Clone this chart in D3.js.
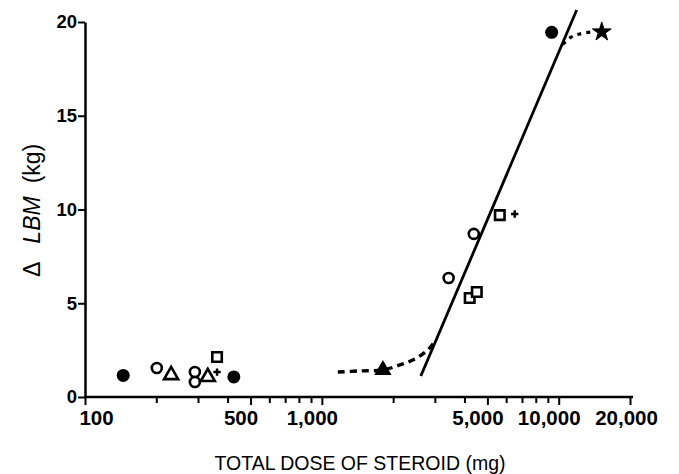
<!DOCTYPE html>
<html><head><meta charset="utf-8">
<script src="https://cdn.jsdelivr.net/npm/d3@7"></script>
<style>body{margin:0;background:#fff}svg{display:block}</style>
</head><body><svg id="c" width="679" height="474"></svg>
<script>
// ---- data ----
const xTickValues = [100,200,300,400,500,600,700,800,900,1000,2000,3000,4000,5000,6000,7000,8000,9000,10000,20000];
const xTickLabels = {100:"100",500:"500",1000:"1,000",5000:"5,000",10000:"10,000",20000:"20,000"};
const yTickValues = [0,5,10,15,20];
const filledCircles = [[145,1.15],[425,1.07],[9340,19.45]];
const openCircles = [[201,1.55],[291,1.33],[291,0.8],[3430,6.35],[4380,8.7]];
const openTriangles = [[231,1.17],[330,1.07]];
const filledTriangles = [[1810,1.44]];
const openSquares = [[361,2.13],[4210,5.28],[4510,5.6],[5640,9.7]];
const plusMarks = [[361,1.33],[6520,9.76]];
const stars = [[15200,19.47]];
const fitLine = [[2617,1.12],[11910,20.64]];
const lowerCurve = [[1168,1.33],[1446,1.39],[1808,1.44],[2134,1.71],[2468,2.03],[2801,2.51],[3028,3.04]];
const upperCurve = [[10400,18.8],[11130,19.15],[12270,19.36],[13780,19.47]];

// ---- chart ----
const svg = d3.select("#c");
const x = d3.scaleLog().domain([100,20000]).range([85,630]);
const y = d3.scaleLinear().domain([0,20]).range([397,22]);
const font = "'Liberation Sans', Arial, sans-serif";
const labelShift = d => d === 100 ? 11 : (d === 20000 ? -4 : -10);

// x axis
const xAxis = d3.axisBottom(x).tickValues(xTickValues)
  .tickSize(6).tickSizeOuter(0).tickFormat(d => xTickLabels[d] || "");
const gx = svg.append("g").attr("transform","translate(0,397)").call(xAxis);
gx.select(".domain").attr("stroke","#000").attr("stroke-width",2.5).attr("d","M85,0H633");
gx.selectAll(".tick line").attr("stroke","#000").attr("stroke-width",2)
  .attr("y2", d => xTickLabels[d] ? 8 : 6);
gx.selectAll(".tick text").attr("font-family",font).attr("font-weight","bold")
  .attr("font-size",20.5).attr("fill","#000").attr("y",13)
  .attr("dx", labelShift);

// y axis
const yAxis = d3.axisLeft(y).tickValues(yTickValues).tickSize(7).tickSizeOuter(0).tickFormat(d3.format("d"));
const gy = svg.append("g").attr("transform","translate(85,0)").call(yAxis);
gy.select(".domain").attr("stroke","#000").attr("stroke-width",2.5);
gy.selectAll(".tick line").attr("stroke","#000").attr("stroke-width",2);
gy.selectAll(".tick text").attr("font-family",font).attr("font-weight","bold")
  .attr("font-size",18.5).attr("fill","#000").attr("x",-8);

// titles
svg.append("text").attr("x",360).attr("y",470).attr("text-anchor","middle")
  .attr("font-family",font).attr("font-size",19.5).attr("fill","#000")
  .text("TOTAL DOSE OF STEROID (mg)");
const yl = svg.append("text").attr("transform","translate(40,277) rotate(-90)")
  .attr("text-anchor","start").attr("font-family",font).attr("font-size",23).attr("fill","#000");
yl.append("tspan").text("Δ");
yl.append("tspan").attr("dx",18).attr("font-style","italic").text("LBM");
yl.append("tspan").attr("dx",13).text("(kg)");

// lines
const line = d3.line().x(d => x(d[0])).y(d => y(d[1]));
svg.append("path").datum(fitLine).attr("d",line).attr("fill","none")
  .attr("stroke","#000").attr("stroke-width",2.8);
const curve = d3.line().x(d => x(d[0])).y(d => y(d[1])).curve(d3.curveCatmullRom);
svg.append("path").datum(lowerCurve).attr("d",curve).attr("fill","none")
  .attr("stroke","#000").attr("stroke-width",3.4).attr("stroke-dasharray","7,5");
svg.append("path").datum(upperCurve).attr("d",curve).attr("fill","none")
  .attr("stroke","#000").attr("stroke-width",3.2).attr("stroke-dasharray","4,5");

// markers
const pos = d => `translate(${x(d[0])},${y(d[1])})`;
svg.selectAll(".fc").data(filledCircles).enter().append("circle")
  .attr("cx",d=>x(d[0])).attr("cy",d=>y(d[1])).attr("r",6.5).attr("fill","#000");
svg.selectAll(".oc").data(openCircles).enter().append("circle")
  .attr("cx",d=>x(d[0])).attr("cy",d=>y(d[1])).attr("r",5)
  .attr("fill","#fff").attr("stroke","#000").attr("stroke-width",2.6);
svg.selectAll(".ot").data(openTriangles).enter().append("path")
  .attr("transform",pos).attr("d",d3.symbol(d3.symbolTriangle,85))
  .attr("fill","#fff").attr("stroke","#000").attr("stroke-width",2.6);
svg.selectAll(".ft").data(filledTriangles).enter().append("path")
  .attr("transform",pos).attr("d",d3.symbol(d3.symbolTriangle,130)).attr("fill","#000");
svg.selectAll(".os").data(openSquares).enter().append("path")
  .attr("transform",pos).attr("d",d3.symbol(d3.symbolSquare,90))
  .attr("fill","#fff").attr("stroke","#000").attr("stroke-width",2.6);
svg.selectAll(".pl").data(plusMarks).enter().append("path")
  .attr("transform",pos).attr("d",d3.symbol(d3.symbolCross,30)).attr("fill","#000");
svg.selectAll(".st").data(stars).enter().append("path")
  .attr("transform",pos).attr("d",d3.symbol(d3.symbolStar,110)).attr("fill","#000")
  .attr("stroke","#000").attr("stroke-width",1);
</script></body></html>
